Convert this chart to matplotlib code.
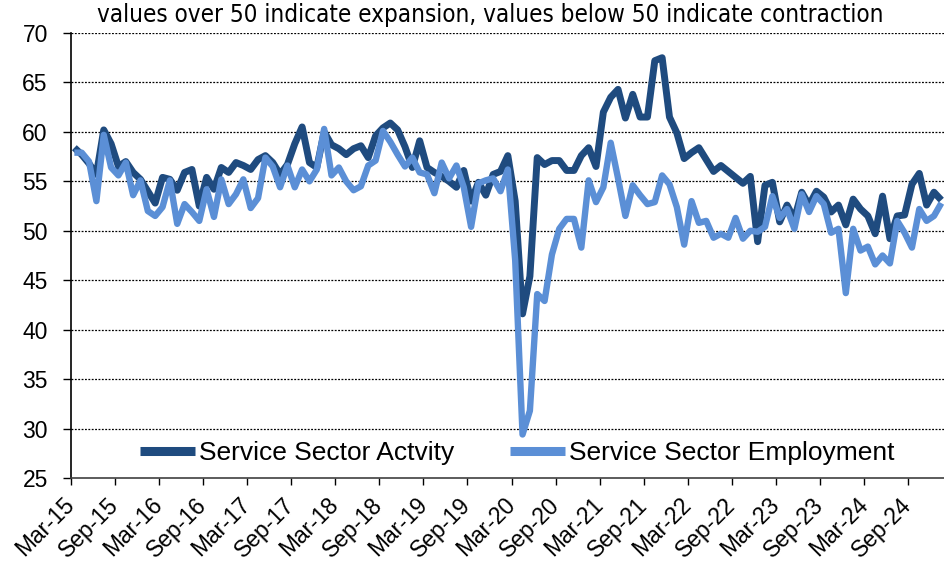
import matplotlib
matplotlib.use("Agg")
import matplotlib.pyplot as plt
import numpy as np

# monthly readings, Mar-15 .. Jan-25
activity = [
    58.4, 57.7, 56.8, 55.7, 60.2, 58.8, 56.5, 57.0, 55.9, 55.2, 54.0, 52.8,
    55.4, 55.2, 54.1, 55.9, 56.2, 52.5, 55.4, 54.2, 56.4, 55.9, 56.9, 56.6,
    56.2, 57.2, 57.6, 56.9, 55.7, 56.7, 58.8, 60.5, 56.9, 56.4, 60.0, 58.7,
    58.3, 57.7, 58.3, 58.6, 57.4, 59.6, 60.4, 60.9, 60.2, 58.5, 56.4, 59.1,
    56.4, 55.9, 55.5, 55.0, 54.4, 56.1, 53.0, 54.9, 53.6, 55.7, 56.0, 57.6,
    53.0, 41.6, 45.4, 57.4, 56.7, 57.1, 57.1, 56.1, 56.1, 57.6, 58.4, 56.5,
    62.0, 63.5, 64.3, 61.4, 63.8, 61.5, 61.5, 67.2, 67.5, 61.5, 59.9, 57.3,
    57.9, 58.4, 57.2, 56.0, 56.6, 56.0, 55.4, 54.8, 55.5, 48.9, 54.6, 54.9,
    50.9, 52.6, 51.2, 53.9, 52.6, 54.0, 53.4, 51.9, 52.6, 50.6, 53.2, 52.2,
    51.5, 49.7, 53.5, 49.2, 51.5, 51.6, 54.7, 55.8, 52.6, 53.9, 53.1,
]
employment = [
    57.9, 57.9, 57.0, 53.0, 59.7, 56.4, 55.6, 56.9, 53.6, 55.1, 52.0, 51.5,
    52.4, 55.1, 50.7, 52.7, 51.9, 51.0, 54.2, 51.4, 55.2, 52.7, 53.7, 55.2,
    52.3, 53.3, 57.4, 56.5, 54.4, 56.6, 54.4, 56.2, 55.0, 56.2, 60.3, 55.6,
    56.4, 55.0, 54.1, 54.5, 56.6, 57.1, 60.1, 59.0, 57.7, 56.5, 57.4, 55.9,
    55.7, 53.8, 56.9, 55.3, 56.6, 54.4, 50.4, 54.8, 55.1, 55.3, 54.0, 56.2,
    47.0, 29.4, 31.8, 43.6, 42.9, 47.6, 50.2, 51.2, 51.2, 48.3, 55.1, 52.9,
    54.4, 58.9, 55.3, 51.5, 54.6, 53.6, 52.7, 52.9, 55.6, 54.7, 52.4, 48.6,
    53.0, 50.8, 51.0, 49.3, 49.7, 49.3, 51.3, 49.2, 50.0, 49.9, 50.4, 53.5,
    51.3, 52.2, 50.2, 53.7, 51.9, 53.5, 52.7, 49.8, 50.2, 43.7, 50.2, 48.0,
    48.4, 46.6, 47.5, 46.7, 51.0, 49.8, 48.3, 52.2, 51.0, 51.5, 52.8,
]
tick_labels = ['Mar-15', 'Sep-15', 'Mar-16', 'Sep-16', 'Mar-17', 'Sep-17',
               'Mar-18', 'Sep-18', 'Mar-19', 'Sep-19', 'Mar-20', 'Sep-20',
               'Mar-21', 'Sep-21', 'Mar-22', 'Sep-22', 'Mar-23', 'Sep-23',
               'Mar-24', 'Sep-24']
series_names = ['Service Sector Actvity', 'Service Sector Employment']
subtitle = 'values over 50 indicate expansion, values below 50 indicate contraction'

plt.rcParams['font.family'] = ['Liberation Sans', 'DejaVu Sans']

fig = plt.figure(figsize=(9.45, 5.75), dpi=100)
ax = fig.add_axes([0.0748, 0.1687, 0.9252, 0.7739])

x = np.arange(len(activity))
ax.plot(x, activity, color='#1F4B7F', lw=5.0, solid_joinstyle='round',
        solid_capstyle='butt', label=series_names[0])
ax.plot(x, employment, color='#5B8FD6', lw=4.6, solid_joinstyle='round',
        solid_capstyle='butt', label=series_names[1])

ax.set_xlim(-0.5, len(activity) - 0.5)
ax.set_ylim(25, 70)
ax.set_yticks(np.arange(25, 71, 5))
ax.set_xticks(np.arange(len(tick_labels)) * 6 - 0.5)
ax.set_xticklabels(tick_labels, rotation=45, ha='right', va='center',
                   rotation_mode='anchor')

for v in range(30, 71, 5):
    ax.axhline(v, color='black', lw=0.9, ls=(0, (1.5, 1.2)), zorder=0)

for s in ['top', 'right']:
    ax.spines[s].set_visible(False)
ax.spines['left'].set_color('black')
ax.spines['bottom'].set_color('#404040')
ax.spines['left'].set_linewidth(1.2)
ax.spines['bottom'].set_linewidth(1.2)

ax.tick_params(axis='y', labelsize=16.5, length=5.5, width=1.0, pad=11)
ax.tick_params(axis='x', labelsize=16.5, length=5, width=1.0, pad=12)

leg = ax.legend(loc='center', bbox_to_anchor=(0.511, 0.056), ncol=2,
                frameon=False, fontsize=19, handlelength=2.1,
                handletextpad=0.15, columnspacing=2.1, borderpad=0,
                borderaxespad=0)
for h in leg.get_lines():
    h.set_linewidth(6.5)

fig.text(0.5185, 1 - 15 / 575, subtitle, ha='center', va='center',
         fontsize=17.4, family='DejaVu Sans', fontstretch='condensed')

fig.savefig('out.png', dpi=100)
